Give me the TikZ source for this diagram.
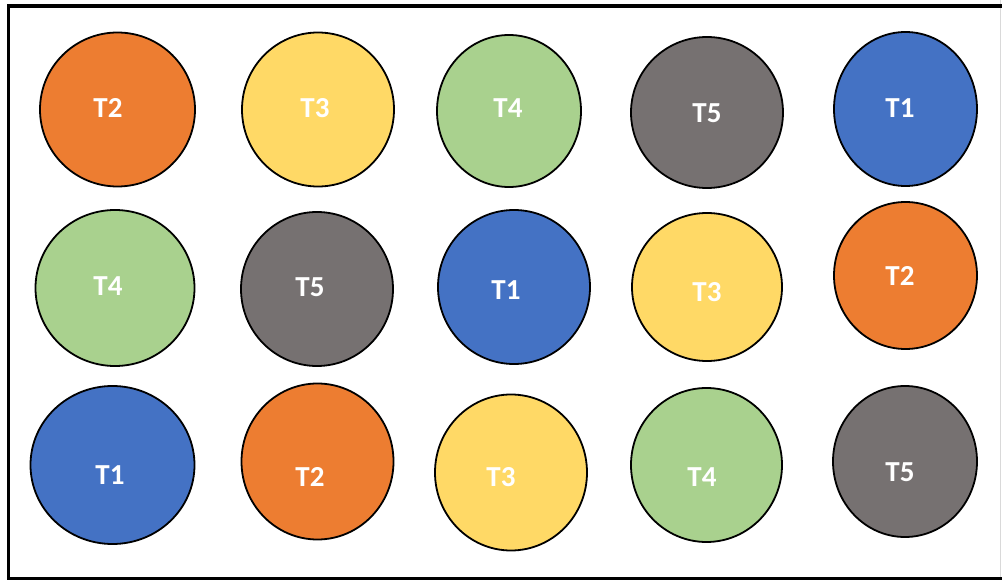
\documentclass[tikz,border=0pt]{standalone}
\usepackage{fontspec}
\setmainfont{Carlito}
\usetikzlibrary{shapes.geometric}
\definecolor{cOr}{HTML}{ED7D31}
\definecolor{cYe}{HTML}{FFD966}
\definecolor{cGr}{HTML}{A9D18E}
\definecolor{cGy}{HTML}{767171}
\definecolor{cBl}{HTML}{4472C4}
\tikzset{
  disc/.style={ellipse, draw=black, line width=1.8pt, inner sep=0pt},
  lbl/.style={text=white, font=\fontsize{29}{29}\selectfont\bfseries, inner sep=0pt, anchor=center},
  frame/.style={draw=black, line width=3.5pt},
}
\newcommand{\tdisc}[8]{% name, cx, cy, rx, ry, colour, label pos x, y ... label via #8
  \node[disc, fill=#6, minimum width=#4*2pt, minimum height=#5*2pt] (#1) at (#2,#3) {};
  \node[lbl] (#1t) at (#7) {#8};
}
\begin{document}
\begin{tikzpicture}[x=1pt,y=-1pt]
\useasboundingbox (0,0) rectangle (1002,580);
\fill[white] (0,0) rectangle (1002,580);
\draw[gray!30, line width=1pt] (1000.5,0) -- (1000.5,580);
\draw[frame] (8.5,580) -- (8.5,5.8) -- (1002,5.8);
\draw[frame] (8.5,578.3) -- (1002,578.3);
% row 1
\tdisc{a1}{117.5}{109.5}{77.5}{77}{cOr}{108,108}{T2}
\tdisc{a2}{318}{109.5}{76}{77}{cYe}{315,108}{T3}
\tdisc{a3}{509}{111}{72}{76}{cGr}{508,108}{T4}
\tdisc{a4}{707}{112.5}{76}{75.5}{cGy}{707,113}{T5}
\tdisc{a5}{905.5}{109}{71.5}{77}{cBl}{900,108}{T1}
% row 2
\tdisc{b1}{115}{288}{79.5}{78}{cGr}{108,286}{T4}
\tdisc{b2}{317}{289}{76}{77}{cGy}{310,287}{T5}
\tdisc{b3}{514}{287}{76}{77}{cBl}{506,290}{T1}
\tdisc{b4}{707}{287}{75}{74}{cYe}{707,292}{T3}
\tdisc{b5}{905.5}{275.5}{71.5}{73.5}{cOr}{900,276}{T2}
% row 3
\tdisc{c1}{112.5}{465}{82}{79}{cBl}{110,475}{T1}
\tdisc{c2}{317.5}{461.5}{76}{78}{cOr}{310,477}{T2}
\tdisc{c3}{511}{472.5}{76}{78}{cYe}{501,477}{T3}
\tdisc{c4}{706.5}{465}{75.5}{77}{cGr}{702,477}{T4}
\tdisc{c5}{905}{461.5}{72}{75.5}{cGy}{900,472}{T5}
\end{tikzpicture}
\end{document}
